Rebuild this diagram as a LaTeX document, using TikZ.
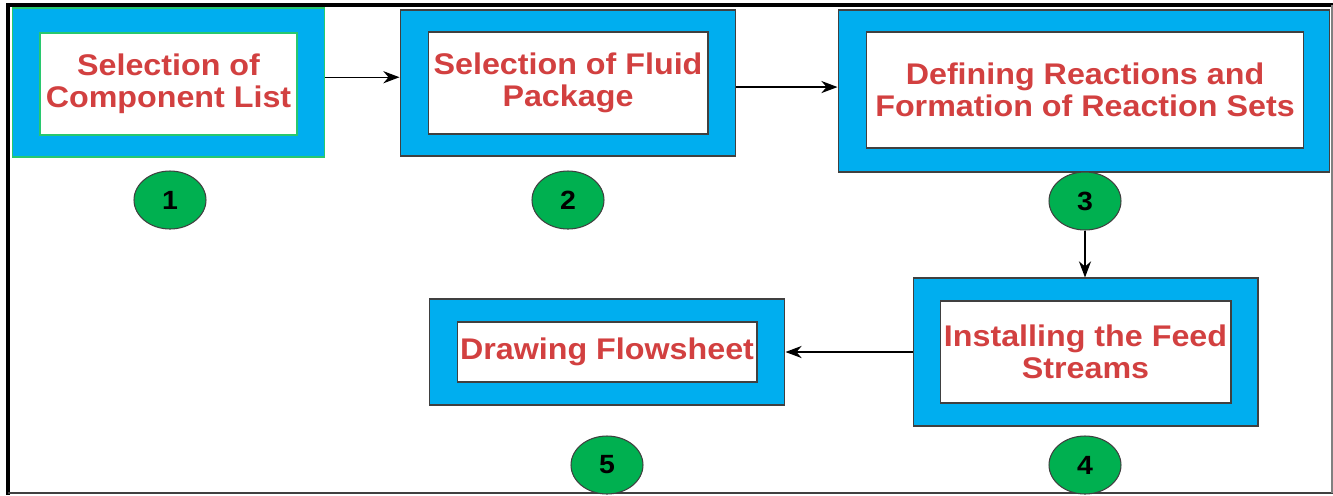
\documentclass[tikz,border=0pt]{standalone}
\usepackage{fontspec}
\setmainfont{Liberation Sans}[FakeStretch=1.08]
\usetikzlibrary{calc}
\usetikzlibrary{positioning}
\usetikzlibrary{arrows.meta}
\usetikzlibrary{shapes.geometric}

\definecolor{stepcyan}{RGB}{0,174,239}
\definecolor{stepgreen}{RGB}{0,176,80}
\definecolor{edgegreen}{RGB}{40,200,110}
\definecolor{labelred}{RGB}{210,64,64}
\definecolor{edgegrey}{RGB}{64,64,64}

\tikzset{
  outerbox/.style={draw=edgegrey,fill=stepcyan,line width=0.6pt,inner sep=0pt},
  innerbox/.style={draw=edgegrey,fill=white,line width=0.6pt,inner sep=0pt,
    align=center,text=labelred,font=\fontsize{17}{18}\selectfont\bfseries},
  stepno/.style={ellipse,draw=edgegrey,fill=stepgreen,line width=0.6pt,
    minimum width=1.44cm,minimum height=1.16cm,inner sep=0pt,
    font=\fontsize{15}{16}\selectfont\bfseries},
}

\begin{document}
\begin{tikzpicture}[%
  >={Stealth[scale=1.5]},
  x=0.02cm,
  y=-0.02cm,
]

  \useasboundingbox (0,0) rectangle (1333,495);

  \draw[line width=2.2pt] (6,5) -- (1333,5);
  \draw[line width=2.4pt] (8,4) -- (8,495);
  \draw[edgegrey,line width=0.7pt] (8,493) -- (1333,493);
  \draw[gray,line width=0.6pt] (1332,5) -- (1332,493);

  \node[outerbox,draw=edgegreen,minimum width=6.26cm,minimum height=2.98cm] (o1) at (168.5,82.5) {};
  \node[innerbox,draw=edgegreen,minimum width=5.14cm,minimum height=2.04cm] (s1) at (168.5,84) {Selection of\\Component List};
  \node[stepno] (n1) at (170,200) {1};

  \node[outerbox,minimum width=6.72cm,minimum height=2.92cm] (o2) at (568,83) {};
  \node[innerbox,minimum width=5.6cm,minimum height=2.04cm] (s2) at (568,83) {Selection of Fluid\\Package};
  \node[stepno] (n2) at (568,200) {2};

  \node[outerbox,minimum width=9.84cm,minimum height=3.24cm] (o3) at (1084,91) {};
  \node[innerbox,minimum width=8.76cm,minimum height=2.32cm] (s3) at (1085,90) {Defining Reactions and\\Formation of Reaction Sets};
  \node[stepno] (n3) at (1085,201) {3};

  \node[outerbox,minimum width=6.9cm,minimum height=2.96cm] (o4) at (1085.5,352) {};
  \node[innerbox,minimum width=5.82cm,minimum height=2.04cm] (s4) at (1085.5,352) {Installing the Feed\\Streams};
  \node[stepno] (n4) at (1085,465) {4};

  \node[outerbox,minimum width=7.12cm,minimum height=2.12cm] (o5) at (607,352) {};
  \node[innerbox,minimum width=6.0cm,minimum height=1.2cm] (s5) at (607,352) {Drawing Flowsheet};
  \node[stepno] (n5) at (607,465) {5};

  \draw[->,line width=0.7pt] ([yshift=3pt]o1.east) coordinate (a1) -- (a1 -| o2.west);
  \draw[->,line width=0.7pt] ([yshift=-2.3pt]o2.east) coordinate (a2) -- (a2 -| o3.west);
  \draw[->,line width=0.7pt] (n3.south) -- (n3.south |- o4.north);
  \draw[->,line width=0.7pt] (o4.west) -- (o5.east);

\end{tikzpicture}
\end{document}
